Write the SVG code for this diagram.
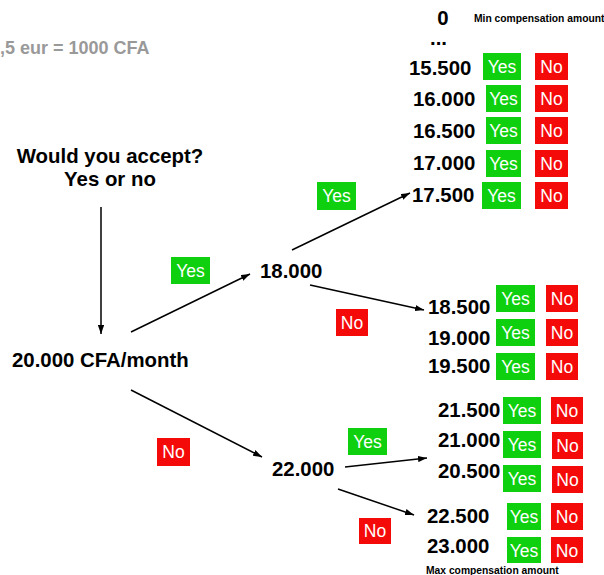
<svg xmlns="http://www.w3.org/2000/svg" width="604" height="575" viewBox="0 0 604 575">
<style>
.t{font-family:"Liberation Sans",Arial,sans-serif;font-weight:bold;fill:#000;font-size:20.4px}
.s{font-family:"Liberation Sans",Arial,sans-serif;font-weight:bold;fill:#000;font-size:10.3px}
.g{font-family:"Liberation Sans",Arial,sans-serif;font-weight:bold;fill:#999;font-size:18px}
.y{fill:#0fd00f}
.n{fill:#f50a0a}
.l{font-family:"Liberation Sans",Arial,sans-serif;fill:#fff;font-size:17.5px;text-anchor:middle}
.c{stroke:#000;stroke-width:1.5;fill:none;marker-end:url(#a)}
</style>
<defs>
<marker id="a" viewBox="0 0 10 7" refX="10" refY="3.5" markerWidth="6" markerHeight="4.2" orient="auto">
<path d="M0,0 L10,3.5 L0,7 z" fill="#000"/>
</marker>
</defs>
<rect width="604" height="575" fill="#fff"/>
<g id="connectors">
<line class="c" x1="101" y1="207" x2="101" y2="334"/>
<line class="c" x1="131" y1="332" x2="250" y2="274"/>
<line class="c" x1="131" y1="390" x2="262" y2="457"/>
<line class="c" x1="292" y1="250" x2="410" y2="193"/>
<line class="c" x1="310" y1="285" x2="424" y2="310"/>
<line class="c" x1="345" y1="467" x2="427" y2="458"/>
<line class="c" x1="338" y1="489" x2="414" y2="515"/>
</g>
<g id="rate"><text class="g" x="0" y="54">,5 eur = 1000 CFA</text></g>
<g id="question">
<text class="t" x="110" y="163" text-anchor="middle">Would you accept?</text>
<text class="t" x="110" y="186" text-anchor="middle">Yes or no</text>
</g>
<g id="start"><text class="t" x="12" y="367">20.000 CFA/month</text></g>
<g id="n18000"><text class="t" x="260" y="278">18.000</text></g>
<g id="n22000"><text class="t" x="272" y="476">22.000</text></g>
<g id="labels">
<rect class="y" x="171" y="257" width="39" height="27"/><text class="l" x="190.5" y="277">Yes</text>
<rect class="y" x="317" y="182" width="39" height="28"/><text class="l" x="336.5" y="202">Yes</text>
<rect class="n" x="336" y="309" width="32" height="27"/><text class="l" x="352" y="329">No</text>
<rect class="n" x="157" y="438" width="33" height="28"/><text class="l" x="173.5" y="458">No</text>
<rect class="y" x="348" y="428" width="39" height="27"/><text class="l" x="367.5" y="448">Yes</text>
<rect class="n" x="359" y="518" width="32" height="26"/><text class="l" x="375" y="537">No</text>
</g>
<g id="top-list">
<text class="t" x="443" y="25" text-anchor="middle">0</text>
<text class="s" x="474" y="22">Min compensation amount</text>
<text class="t" x="430" y="45">...</text>
<text class="t" x="409" y="75">15.500</text>
<rect class="y" x="483" y="53" width="38" height="27"/><text class="l" x="502" y="73">Yes</text>
<rect class="n" x="535" y="53" width="33" height="27"/><text class="l" x="551.5" y="73">No</text>
<text class="t" x="413" y="106">16.000</text>
<rect class="y" x="486" y="85" width="35" height="27"/><text class="l" x="503.5" y="105">Yes</text>
<rect class="n" x="535" y="85" width="33" height="27"/><text class="l" x="551.5" y="105">No</text>
<text class="t" x="413" y="138">16.500</text>
<rect class="y" x="486" y="117" width="35" height="27"/><text class="l" x="503.5" y="137">Yes</text>
<rect class="n" x="535" y="117" width="33" height="27"/><text class="l" x="551.5" y="137">No</text>
<text class="t" x="413" y="170">17.000</text>
<rect class="y" x="486" y="150" width="35" height="27"/><text class="l" x="503.5" y="170">Yes</text>
<rect class="n" x="535" y="150" width="33" height="27"/><text class="l" x="551.5" y="170">No</text>
<text class="t" x="412" y="202">17.500</text>
<rect class="y" x="482" y="182" width="39" height="27"/><text class="l" x="501.5" y="202">Yes</text>
<rect class="n" x="535" y="182" width="33" height="27"/><text class="l" x="551.5" y="202">No</text>
</g>
<g id="mid-list">
<text class="t" x="428" y="314">18.500</text>
<rect class="y" x="496" y="285" width="39" height="27"/><text class="l" x="515.5" y="305">Yes</text>
<rect class="n" x="546" y="285" width="32" height="27"/><text class="l" x="562" y="305">No</text>
<text class="t" x="428" y="345">19.000</text>
<rect class="y" x="496" y="319" width="39" height="27"/><text class="l" x="515.5" y="339">Yes</text>
<rect class="n" x="546" y="319" width="32" height="27"/><text class="l" x="562" y="339">No</text>
<text class="t" x="428" y="373">19.500</text>
<rect class="y" x="496" y="353" width="39" height="27"/><text class="l" x="515.5" y="373">Yes</text>
<rect class="n" x="546" y="353" width="32" height="27"/><text class="l" x="562" y="373">No</text>
</g>
<g id="bottom-list">
<text class="t" x="438" y="417">21.500</text>
<rect class="y" x="503" y="397" width="38" height="27"/><text class="l" x="522" y="417">Yes</text>
<rect class="n" x="551" y="397" width="32" height="27"/><text class="l" x="567" y="417">No</text>
<text class="t" x="438" y="447">21.000</text>
<rect class="y" x="503" y="431" width="38" height="27"/><text class="l" x="522" y="451">Yes</text>
<rect class="n" x="552" y="432" width="31" height="27"/><text class="l" x="567.5" y="452">No</text>
<text class="t" x="438" y="478">20.500</text>
<rect class="y" x="503" y="465" width="38" height="27"/><text class="l" x="522" y="485">Yes</text>
<rect class="n" x="552" y="466" width="31" height="27"/><text class="l" x="567.5" y="486">No</text>
<text class="t" x="427" y="523">22.500</text>
<rect class="y" x="507" y="503" width="34" height="27"/><text class="l" x="524" y="523">Yes</text>
<rect class="n" x="551" y="503" width="32" height="27"/><text class="l" x="567" y="523">No</text>
<text class="t" x="427" y="553">23.000</text>
<rect class="y" x="507" y="537" width="34" height="26"/><text class="l" x="524" y="557">Yes</text>
<rect class="n" x="551" y="537" width="32" height="26"/><text class="l" x="567" y="557">No</text>
<text class="s" x="426" y="574">Max compensation amount</text>
</g>
</svg>
